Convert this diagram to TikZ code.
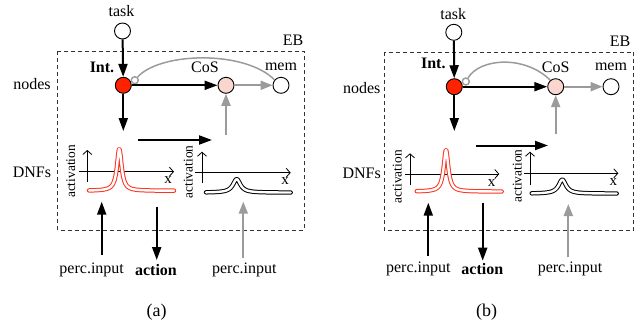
\documentclass[tikz,border=0pt]{standalone}
\usepackage{fontspec}
\setmainfont{Liberation Serif}
\usetikzlibrary{arrows.meta}
\definecolor{intred}{RGB}{255,34,0}
\definecolor{cospink}{RGB}{250,214,206}
\definecolor{lgray}{RGB}{155,155,155}
\definecolor{curvered}{RGB}{255,50,30}
\begin{document}
\begin{tikzpicture}[x=1pt,y=-1pt,
  every node/.style={inner sep=0pt, font=\fontsize{16}{19}\selectfont},
  boldlbl/.style={font=\fontsize{16}{19}\selectfont\bfseries},
  smalllbl/.style={font=\fontsize{13.4}{16}\selectfont},
  xlbl/.style={font=\fontsize{15}{17}\selectfont},
  caplbl/.style={font=\fontsize{18}{21}\selectfont},
  unit/.style={circle, draw=black, line width=0.9pt, minimum size=16pt, inner sep=0pt},
  ring/.style={circle, draw=lgray, line width=1.4pt, fill=white, minimum size=7pt, inner sep=0pt},
  bigarrow/.style={line width=2pt, -{Triangle[length=13pt,width=9pt]}},
  grayarrow/.style={draw=lgray, line width=2pt, -{Triangle[length=12pt,width=9pt]}},
  axis/.style={line width=0.8pt, -{Straight Barb[length=4pt,width=9pt]}},
  ebox/.style={dash pattern=on 4pt off 3pt, line width=0.9pt, draw=black!80},
  dnf/.style={double=white, double distance=2.4pt, line width=1pt, line cap=round, line join=round},
  arcline/.style={draw=lgray, line width=1.5pt}
]
\useasboundingbox (0,0) rectangle (644,325);

% ---------------- panel (a) ----------------
\draw[ebox] (57.7,51) rectangle (304,230);
\node (ebA) at (293,40) {EB};
\node (taskLa) at (121.5,11) {task};
\node[unit] (taskA) at (122.5,31) {};
\node[unit, fill=intred] (intA) at (123.3,85.3) {};
\node[boldlbl] (intLa) at (102,67) {Int.};
\node[unit, fill=cospink] (cosA) at (226,85.3) {};
\node (cosLa) at (205,67) {CoS};
\node[unit] (memA) at (281,85.3) {};
\node (memLa) at (281,67) {mem};
\node (nodesA) at (32,84) {nodes};
\node (dnfA) at (32,172.7) {DNFs};

\node[ring] (ringA) at (134.8,80.2) {};
\draw[arcline] (ringA) .. controls (160,52) and (245,50) .. (memA.140);
\draw[bigarrow] (taskA) -- (intA);
\draw[bigarrow] (intA) -- (cosA);
\draw[grayarrow] (cosA) -- (memA);
\coordinate (intdA) at (123.3,131);
\draw[bigarrow] (intA) -- (intdA);
\coordinate (h1A) at (138,140);
\coordinate (h2A) at (212,140);
\draw[bigarrow] (h1A) -- (h2A);
\coordinate (cosupA) at (226,135);
\draw[grayarrow] (cosupA) -- (cosA);

% DNF plots (a)
\draw[axis] (87.3,182) -- (87.3,150);
\draw[axis] (79,171.7) -- (174,171.7);
\node[xlbl] (xA1) at (168,180) {x};
\node[smalllbl, rotate=90] (actA1) at (70.7,171.5) {activation};
\draw[dnf, draw=curvered] plot[smooth, domain=89:174, samples=120] (\x, {190.8 - 42/(1+((\x-119.3)/2.8)^2)});
\draw[axis] (202,183) -- (202,151.7);
\draw[axis] (195,172.7) -- (290.7,172.7);
\node[xlbl] (xA2) at (285,180.7) {x};
\node[smalllbl, rotate=90] (actA2) at (188.3,172) {activation};
\draw[dnf, draw=black] plot[smooth, domain=206:290.7, samples=100] (\x, {192.6 - 13.5/(1+((\x-236.7)/4.5)^2)});

% inputs / outputs (a)
\node (percA) at (91.7,270) {perc.input};
\node[boldlbl] (actnA) at (156,270) {action};
\node (perc2A) at (244.3,270) {perc.input};
\coordinate (pinA0) at (101.7,255);
\coordinate (pinA1) at (101.7,201.7);
\draw[bigarrow] (pinA0) -- (pinA1);
\coordinate (actA0) at (156.7,206.7);
\coordinate (actA1e) at (156.7,260);
\draw[bigarrow] (actA0) -- (actA1e);
\coordinate (gpA0) at (243.3,258);
\coordinate (gpA1) at (243.3,201.7);
\draw[grayarrow] (gpA0) -- (gpA1);
\node[caplbl] (capA) at (156.7,311.7) {(a)};

% ---------------- panel (b) ----------------
\draw[ebox] (384.3,52) rectangle (633.3,230.7);
\node (ebB) at (620,41) {EB};
\node (taskLb) at (453.3,14) {task};
\node[unit] (taskB) at (453.8,32.3) {};
\node[unit, fill=intred] (intB) at (454.3,86.7) {};
\node[boldlbl] (intLb) at (433.3,63) {Int.};
\node[unit, fill=cospink] (cosB) at (555.7,86.7) {};
\node (cosLb) at (555.7,67) {CoS};
\node[unit] (memB) at (611,86.7) {};
\node (memLb) at (611,67) {mem};
\node (nodesB) at (361.7,88) {nodes};
\node (dnfB) at (361.7,173.3) {DNFs};

\node[ring] (ringB) at (465.8,81.5) {};
\draw[arcline] (ringB) .. controls (480,58) and (525,55) .. (cosB.130);
\draw[bigarrow] (taskB) -- (intB);
\draw[bigarrow] (intB) -- (cosB);
\draw[grayarrow] (cosB) -- (memB);
\coordinate (intdB) at (454.3,131);
\draw[bigarrow] (intB) -- (intdB);
\coordinate (h1B) at (476,145.5);
\coordinate (h2B) at (548,145.5);
\draw[bigarrow] (h1B) -- (h2B);
\coordinate (cosupB) at (555.7,134);
\draw[grayarrow] (cosupB) -- (cosB);

% DNF plots (b)
\draw[axis] (410,185) -- (410,153.3);
\draw[axis] (405,174) -- (499.3,174);
\node[xlbl] (xB1) at (491.7,182.7) {x};
\node[smalllbl, rotate=90] (actB1) at (397.3,176.7) {activation};
\draw[dnf, draw=curvered] plot[smooth, domain=416.7:501.7, samples=120] (\x, {191.6 - 41.5/(1+((\x-446)/2.8)^2)});
\draw[axis] (530,185) -- (530,151.7);
\draw[axis] (524,173.3) -- (618.3,173.3);
\node[xlbl] (xB2) at (613.3,182) {x};
\node[smalllbl, rotate=90] (actB2) at (517.3,176) {activation};
\draw[dnf, draw=black] plot[smooth, domain=531.7:616.7, samples=100] (\x, {193.6 - 14/(1+((\x-562.3)/4.5)^2)});

% inputs / outputs (b)
\node (percB) at (418.3,269.3) {perc.input};
\node[boldlbl] (actnB) at (482.3,269.3) {action};
\node (perc2B) at (570,269.3) {perc.input};
\coordinate (pinB0) at (428.3,256);
\coordinate (pinB1) at (428.3,202.7);
\draw[bigarrow] (pinB0) -- (pinB1);
\coordinate (actB0) at (482.7,202.7);
\coordinate (actB1e) at (482.7,260.7);
\draw[bigarrow] (actB0) -- (actB1e);
\coordinate (gpB0) at (568.3,257.3);
\coordinate (gpB1) at (568.3,204);
\draw[grayarrow] (gpB0) -- (gpB1);
\node[caplbl] (capB) at (486.7,311.7) {(b)};
\end{tikzpicture}
\end{document}
